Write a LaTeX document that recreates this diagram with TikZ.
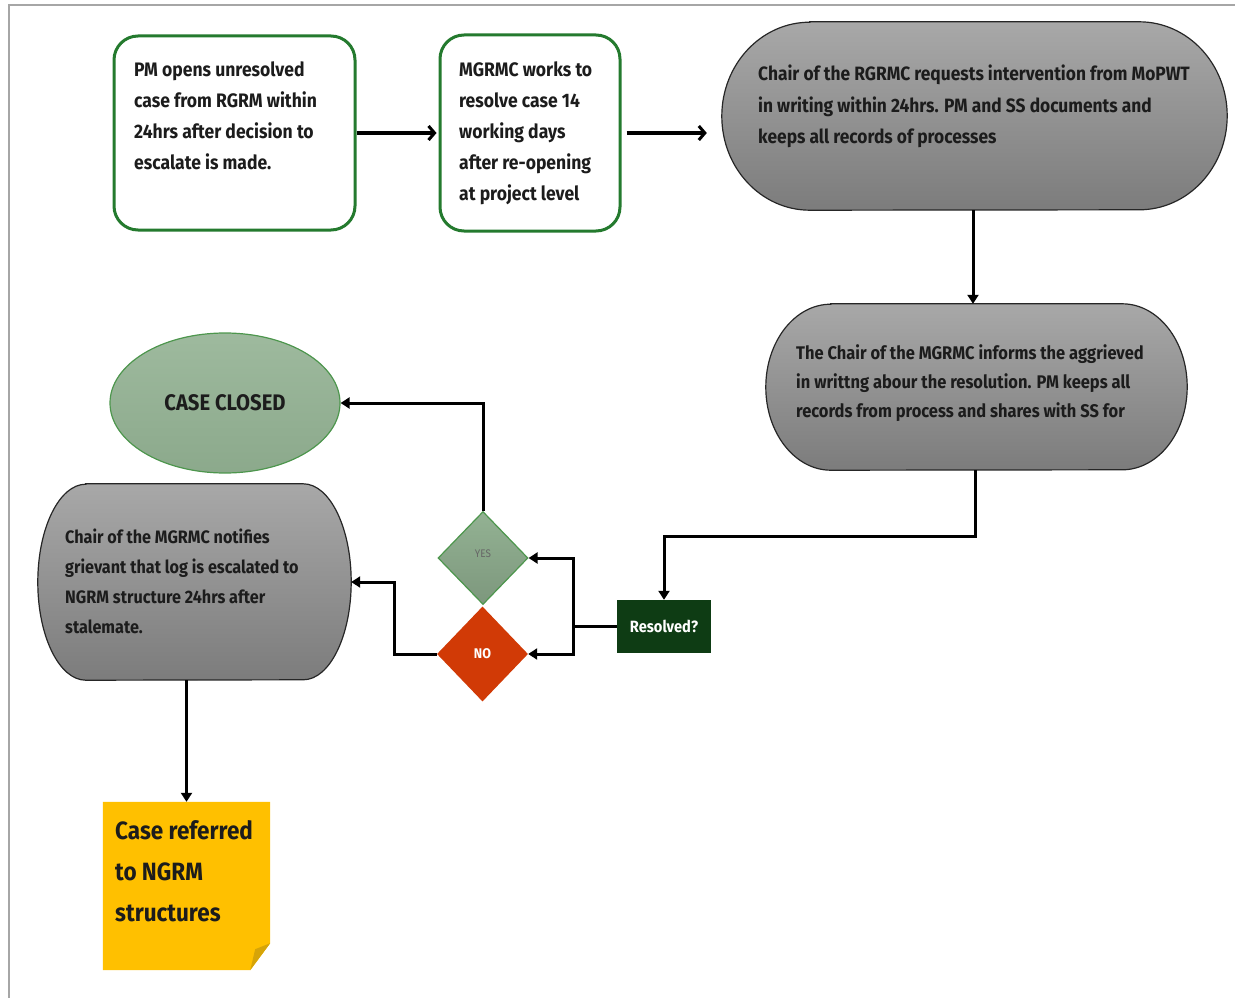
\documentclass[tikz,border=0pt]{standalone}
\usepackage{fontspec}
\setmainfont{Fira Sans}[FakeStretch=0.90]
\usetikzlibrary{arrows.meta,shapes.geometric}
\definecolor{bgreen}{RGB}{36,122,46}
\definecolor{gtop}{RGB}{168,168,168}
\definecolor{gbot}{RGB}{124,124,124}
\definecolor{resg}{RGB}{14,60,20}
\definecolor{sage}{RGB}{147,178,147}
\definecolor{sageb}{RGB}{77,150,77}
\definecolor{nored}{RGB}{209,58,6}
\definecolor{notey}{RGB}{255,192,0}
\definecolor{notef}{RGB}{214,164,8}
\definecolor{txt}{RGB}{28,28,28}
\newcommand\myfs[2]{\fontsize{#1pt}{#2pt}\selectfont}
\newcommand\stad[3]{%
  \path[stadfill] ([xshift=#2pt]#1.north west) -- ([xshift=-#2pt]#1.north east)
    arc[start angle=90,end angle=-90,x radius=#2pt,y radius=#3pt]
    -- ([xshift=#2pt]#1.south west)
    arc[start angle=270,end angle=90,x radius=#2pt,y radius=#3pt] -- cycle;}
\tikzset{
  gbox/.style={draw=bgreen,line width=3pt,rounded corners=24pt,fill=white,inner sep=0},
  holder/.style={rectangle,inner sep=0},
  stadfill/.style={top color=gtop,bottom color=gbot,draw=black!85,line width=1.2pt},
  txtblk/.style={anchor=north west,align=left,inner sep=0,text=txt,font=\bfseries},
  conn/.style={line width=3pt,-{Triangle[length=9pt,width=11pt]}},
  topconn/.style={line width=3.5pt,-{Straight Barb[length=6pt,width=14pt,line width=3pt]}},
  plain/.style={line width=3pt},
}
\begin{document}
\begin{tikzpicture}[x=1pt,y=-1pt]
\useasboundingbox (0,0) rectangle (1235,998);
\draw[black!35,line width=1.5pt] (9,998) -- (9,5) -- (1235,5);

% top green boxes
\node[gbox,minimum width=241pt,minimum height=194pt] (b1) at (234.5,133) {};
\node[txtblk,font=\bfseries\myfs{19.5}{31}] (t1) at (134,61.5) {PM opens unresolved\\case from RGRM within\\24hrs after decision to\\escalate is made.};
\node[gbox,minimum width=180pt,minimum height=196pt] (b2) at (530,133) {};
\node[txtblk,font=\bfseries\myfs{19.5}{31}] (t2) at (459,61.5) {MGRMC works to\\resolve case 14\\working days\\after re-opening\\at project level};

% stadium 1
\node[holder,minimum width=505pt,minimum height=188pt] (s1) at (974.5,116) {};
\stad{s1}{88}{94}
\node[txtblk,font=\bfseries\myfs{19.3}{31.5}] (t3) at (758,65) {Chair of the RGRMC requests intervention from MoPWT\\in writing within 24hrs. PM and SS documents and\\keeps all records of processes};

% stadium 2
\node[holder,minimum width=421pt,minimum height=166pt] (s2) at (976.5,387) {};
\stad{s2}{65}{83}
\node[txtblk,font=\bfseries\myfs{18.3}{29}] (t4) at (796,344.5) {The Chair of the MGRMC informs the aggrieved\\in writtng abour the resolution. PM keeps all\\records from process and shares with SS for};

% stadium 3
\node[holder,minimum width=313pt,minimum height=196pt] (s3) at (194.5,582) {};
\stad{s3}{48}{98}
\node[txtblk,font=\bfseries\myfs{18}{30}] (t5) at (65,529) {Chair of the MGRMC notifies\\grievant that log is escalated to\\NGRM structure 24hrs after\\stalemate.};

% case closed
\node[ellipse,draw=sageb,line width=1.2pt,top color=sage!90!white,bottom color=sage!95!black,minimum width=230pt,minimum height=140pt,inner sep=0,text=txt,font=\bfseries\myfs{22.5}{28}] (cc) at (225,403) {CASE CLOSED};

% resolved
\node[rectangle,fill=resg,minimum width=94pt,minimum height=53pt,inner sep=0,text=white,font=\bfseries\myfs{16.3}{18}] (res) at (664,626.5) {Resolved?};

% diamonds
\node[diamond,aspect=1,draw=sageb,line width=1.2pt,top color=sage,bottom color=sage!85!black,minimum width=90pt,minimum height=93pt,inner sep=0,text=black!60,font=\myfs{11}{12}] (yes) at (483,558) {\raisebox{8pt}{YES}};
\node[diamond,aspect=1,fill=nored,minimum width=91pt,minimum height=95pt,inner sep=0,text=white,font=\bfseries\myfs{14}{16}] (no) at (482.5,654) {NO};

% sticky note
\node[holder,minimum width=167pt,minimum height=168pt] (note) at (186.5,886) {};
\path[fill=notey] (note.north west) -- (note.north east) -- ([yshift=27pt]note.south east)
  -- ([xshift=-20pt]note.south east) -- (note.south west) -- cycle;
\path[fill=notef] ([yshift=27pt]note.south east) -- ([xshift=-20pt]note.south east) -- ([xshift=-15pt,yshift=21pt]note.south east) -- cycle;
\node[txtblk,font=\bfseries\myfs{25}{41}] (t6) at (115,820) {Case referred\\to NGRM\\structures};

% connectors
\draw[topconn] (b1.east) -- ([xshift=-2pt]b1.east -| b2.west);
\draw[topconn,shorten <=5pt,shorten >=15pt] (b2.east) -- (b2.east -| s1.west);
\draw[conn] ([xshift=-1.5pt]s1.south) -- ([xshift=-1.5pt]s1.south |- s2.north);
\draw[conn] ([xshift=-1.5pt]s2.south) -- ([xshift=-1.5pt,yshift=-66pt]s2.south) -| (res.north);
\coordinate (split) at (573,0);
\draw[plain] (res.west) -- (res.west -| split);
\draw[conn] (res.west -| split) |- (yes.east);
\draw[conn] (res.west -| split) |- (no.east);
\draw[conn] (yes.north) |- (cc.east);
\coordinate (nleft) at (394,0);
\draw[conn] (no.west) -- (no.west -| nleft) |- (s3.east);
\draw[conn] (s3.south -| note.north) -- (note.north);
\end{tikzpicture}
\end{document}
